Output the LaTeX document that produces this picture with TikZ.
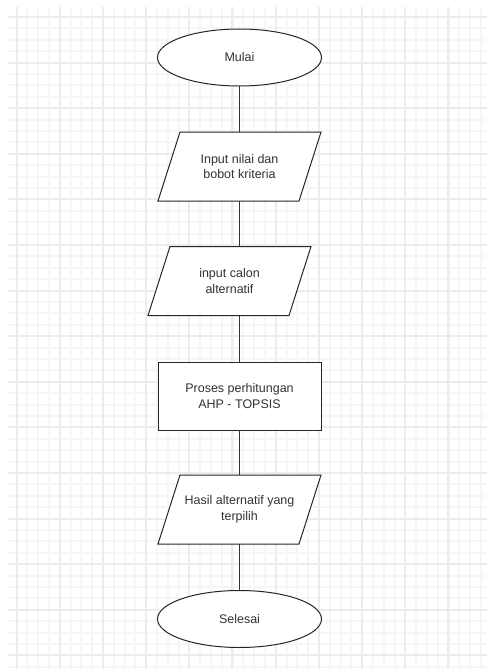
\documentclass[tikz,border=0pt]{standalone}
\usepackage{fontspec}
\setmainfont{Liberation Sans}
\usetikzlibrary{shapes.geometric}
\begin{document}
\begin{tikzpicture}[x=1pt,y=1pt,
  box/.style={draw=black!85, line width=1pt, fill=white, align=center,
    font=\fontsize{12.5}{15.5}\selectfont, text=black!80, inner sep=0pt, outer sep=0pt},
  term/.style={box, ellipse, minimum width=164pt, minimum height=57pt},
  iotext/.style={box, draw=none, fill=none, rectangle, minimum width=141pt, minimum height=69pt},
  ioshape/.style={draw=black!85, line width=1pt, fill=white, line join=miter},
  proc/.style={box, rectangle, minimum width=163pt, minimum height=68pt},
  conn/.style={draw=black!80, line width=1pt},
  minorgrid/.style={draw=black!3.5, line width=2pt},
  majorgrid/.style={draw=black!7.5, line width=2pt}]
\useasboundingbox (0,0) rectangle (487,-669);
\fill[white] (0,0) rectangle (487,-669);
% grid
\foreach \k in {0,...,43} {
  \pgfmathsetmacro\gx{round(16.5+10.8*\k)}
  \draw[minorgrid] (\gx,-7) -- (\gx,-669);}
\foreach \k in {0,...,57} {
  \pgfmathsetmacro\gy{round(17+11.4*\k)}
  \draw[minorgrid] (8,-\gy) -- (487,-\gy);}
\foreach \k in {0,...,10} {
  \pgfmathsetmacro\gx{round(16.5+43.2*\k)}
  \draw[majorgrid] (\gx,-7) -- (\gx,-669);}
\foreach \k in {0,...,14} {
  \pgfmathsetmacro\gy{round(17+45.6*\k)}
  \draw[majorgrid] (8,-\gy) -- (487,-\gy);}
% nodes
\node[term] (mulai) at (239.5,-57.5) {Mulai};
\node[iotext] (in1) at (239.5,-166.5) {};
\node[iotext] (in2) at (229.5,-281) {};
\node[proc] (proses) at (239.5,-396) {Proses perhitungan\\ AHP - TOPSIS};
\node[iotext] (hasil) at (239.5,-509.5) {};
\node[term] (selesai) at (239.5,-619) {Selesai};
% parallelogram outlines
\foreach \n in {in1,in2,hasil}
  \draw[ioshape] ([xshift=11pt]\n.north west) -- ([xshift=11pt]\n.north east)
    -- ([xshift=-11pt]\n.south east) -- ([xshift=-11pt]\n.south west) -- cycle;
\node[iotext] at (in1) {Input nilai dan\\ bobot kriteria};
\node[iotext] at (in2) {input calon\\ alternatif};
\node[iotext] at (hasil) {Hasil alternatif yang\\ terpilih};
% connectors
\draw[conn] (mulai.south) -- (in1.north);
\draw[conn] (in1.south) -- (in1.south |- in2.north);
\draw[conn] (in2.south -| proses.north) -- (proses.north);
\draw[conn] (proses.south) -- (hasil.north);
\draw[conn] (hasil.south) -- (selesai.north);
\end{tikzpicture}
\end{document}
